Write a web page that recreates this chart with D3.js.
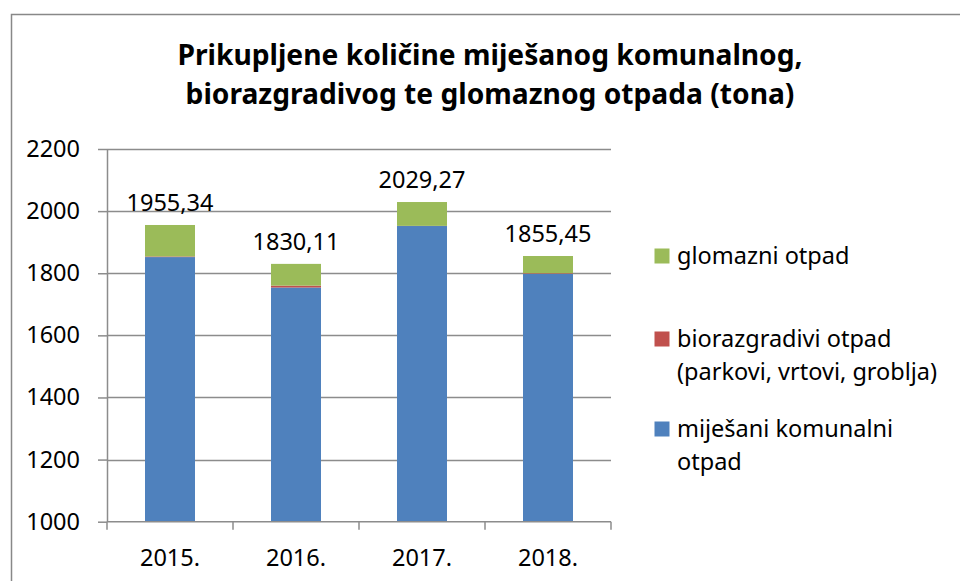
<!DOCTYPE html>
<html>
<head>
<meta charset="utf-8">
<script src="https://cdn.jsdelivr.net/npm/d3@7"></script>
<style>
  body { margin: 0; background: #fff; }
  svg { display: block; font-family: "Noto Sans", sans-serif; }
</style>
</head>
<body>
<svg id="chart" width="960" height="581"></svg>
<script>
// data
const years = ["2015.", "2016.", "2017.", "2018."];
const mijesani = [1852, 1754, 1952, 1798];
const biorazgradivi = [2, 6, 0.5, 2];
const glomazni = [101.34, 70.11, 76.77, 55.45];
const totals = ["1955,34", "1830,11", "2029,27", "1855,45"];
const yTicks = [1000, 1200, 1400, 1600, 1800, 2000, 2200];

const seriesNames = [
    ["mije\u0161ani komunalni", "otpad"],
    ["biorazgradivi otpad", "(parkovi, vrtovi, groblja)"],
    ["glomazni otpad"]
];
const colors = ["#4f81bd", "#c0504d", "#9bbb59"];

const fontSize = 23.5;
const svg = d3.select("#chart");

// outer frame
svg.append("rect")
    .attr("x", 11.5).attr("y", 14.5)
    .attr("width", 1000).attr("height", 700)
    .attr("fill", "none").attr("stroke", "#888").attr("stroke-width", 1.5);

// title
const title = svg.append("text")
    .attr("text-anchor", "middle")
    .attr("font-weight", "bold")
    .attr("font-size", 28.2)
    .attr("fill", "#000");
title.append("tspan").attr("x", 490).attr("y", 65).text("Prikupljene koli\u010Dine mije\u0161anog komunalnog,");
title.append("tspan").attr("x", 490).attr("y", 104).text("biorazgradivog te glomaznog otpada (tona)");

const plot = {left: 107, right: 611, top: 149, bottom: 521.7};

const x = d3.scaleBand()
    .domain(years)
    .range([plot.left, plot.right])
    .paddingInner(0.6032)
    .paddingOuter(0.3016);

const y = d3.scaleLinear()
    .domain([1000, 2200])
    .range([plot.bottom, plot.top]);

// gridlines
svg.append("g")
    .selectAll("line")
    .data(yTicks.slice(1))
    .join("line")
    .attr("x1", plot.left).attr("x2", plot.right)
    .attr("y1", d => Math.round(y(d)) + 0.5)
    .attr("y2", d => Math.round(y(d)) + 0.5)
    .attr("stroke", "#8c8c8c").attr("stroke-width", 1.5);

// stacked bars
const rows = years.map((yr, i) => ({
    year: yr,
    mijesani: mijesani[i],
    bio: biorazgradivi[i],
    glomazni: glomazni[i]
}));
const stack = d3.stack().keys(["mijesani", "bio", "glomazni"]);
const layers = stack(rows);

svg.append("g")
    .selectAll("g")
    .data(layers)
    .join("g")
    .attr("fill", (d, i) => colors[i])
    .selectAll("rect")
    .data(d => d)
    .join("rect")
    .attr("x", d => x(d.data.year))
    .attr("width", x.bandwidth())
    .attr("y", d => y(Math.max(d[1], 1000)))
    .attr("height", d => y(Math.max(d[0], 1000)) - y(Math.max(d[1], 1000)));

// total labels
svg.append("g")
    .selectAll("text")
    .data(rows)
    .join("text")
    .attr("x", d => x(d.year) + x.bandwidth() / 2)
    .attr("y", d => y(d.mijesani + d.bio + d.glomazni) - 14)
    .attr("text-anchor", "middle")
    .attr("font-size", fontSize)
    .attr("fill", "#000")
    .text((d, i) => totals[i]);

// y axis
const yAxis = d3.axisLeft(y)
    .tickValues(yTicks)
    .tickSize(9)
    .tickPadding(18)
    .tickFormat(d3.format("d"));
const gy = svg.append("g")
    .attr("transform", `translate(${plot.left},0)`)
    .call(yAxis);
gy.select(".domain").attr("stroke", "#8c8c8c").attr("stroke-width", 1.5)
    .attr("d", `M0.5,${plot.top}V${plot.bottom}`);
gy.selectAll(".tick line").attr("stroke", "#8c8c8c").attr("stroke-width", 1.5);
gy.selectAll(".tick text").attr("font-size", fontSize).attr("fill", "#000")
    .attr("font-family", "'Noto Sans', sans-serif");

// x axis
const gx = svg.append("g")
    .attr("transform", `translate(0,${plot.bottom})`);
gx.append("line")
    .attr("x1", plot.left).attr("x2", plot.right)
    .attr("y1", 0).attr("y2", 0)
    .attr("stroke", "#8c8c8c").attr("stroke-width", 1.5);
const bounds = [plot.left].concat(years.map(yr => x(yr) - x.step() * x.paddingInner() / 2 + x.step()));
gx.selectAll("line.tk")
    .data(bounds)
    .join("line")
    .attr("class", "tk")
    .attr("x1", d => d).attr("x2", d => d)
    .attr("y1", 0).attr("y2", 8)
    .attr("stroke", "#8c8c8c").attr("stroke-width", 1.5);
gx.selectAll("text")
    .data(years)
    .join("text")
    .attr("x", d => x(d) + x.bandwidth() / 2)
    .attr("y", 44)
    .attr("text-anchor", "middle")
    .attr("font-size", fontSize)
    .attr("fill", "#000")
    .text(d => d);

// legend (top to bottom: glomazni, bio, mijesani)
const legendY = [256, 339, 429];
const legendOrder = [2, 1, 0];
const legend = svg.append("g");
legendOrder.forEach((s, k) => {
    legend.append("rect")
        .attr("x", 654.5).attr("y", legendY[k] - 7.5)
        .attr("width", 15).attr("height", 15)
        .attr("fill", colors[s]);
    seriesNames[s].forEach((line, j) => {
        legend.append("text")
            .attr("x", 677)
            .attr("y", legendY[k] + j * 32.5)
            .attr("dy", "0.35em")
            .attr("font-size", fontSize)
            .attr("fill", "#000")
            .text(line);
    });
});
</script>
</body>
</html>
